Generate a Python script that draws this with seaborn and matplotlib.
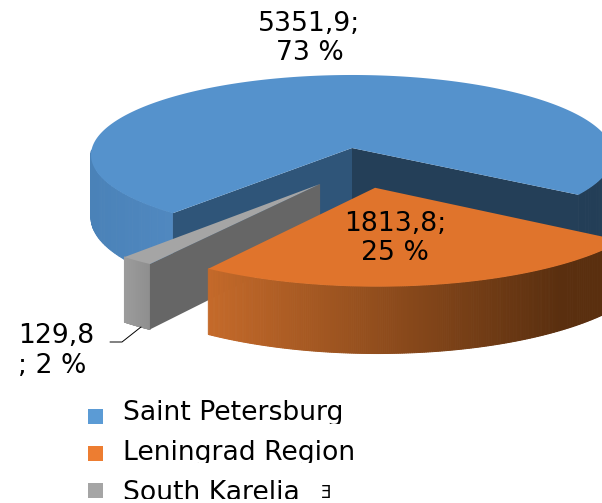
import numpy as np
import seaborn as sns
import matplotlib
matplotlib.use("Agg")
import matplotlib.pyplot as plt
from matplotlib.patches import Rectangle
from matplotlib.transforms import Bbox
from matplotlib.colors import to_rgb

categories = ["Saint Petersburg", "Leningrad Region", "South Karelia"]
values = [5351.9, 1813.8, 129.8]
percents = [73, 25, 2]
top_colors = ["#5592CC", "#E0742C", "#A5A5A5"]
legend_colors = ["#5B9BD5", "#ED7D31", "#A5A5A5"]

sns.set_theme(style="white")
plt.rcParams["font.family"] = ["DejaVu Sans"]
palette = sns.color_palette(top_colors)

W, H = 602, 503
fig, ax = plt.subplots(figsize=(W / 100, H / 100), dpi=100)
fig.subplots_adjust(0, 0, 1, 1)
ax.set_xlim(0, W)
ax.set_ylim(H, 0)
ax.axis("off")

# projection of the pie disc
X0, Y0, A, B, K, DEPTH = 352, 148, 260, 79.4, 0.0875, 58


def proj(u, v, z=0.0):
    w = 1 - K * v
    return X0 + A * u / w, Y0 + B * v / w + DEPTH * z / w


shares = np.array(values) / sum(values) * 360
start = 130.0
ends = start + np.cumsum(shares)
starts = np.r_[start, ends[:-1]]
offsets = [(0, 0), (0.085, 0.48), (-0.118, 0.436)]
radii = [1.0, 1.035, 1.032]
depths = [1.07, 1.0, 1.0]


def arc(i, n=240):
    t = np.radians(np.linspace(starts[i], ends[i], n))
    ou, ov = offsets[i]
    return ou + radii[i] * np.cos(t), ov + radii[i] * np.sin(t)


def fill(pts, color, z):
    xs, ys = zip(*pts)
    ax.fill(xs, ys, facecolor=color, edgecolor=color, lw=0.7, zorder=z)


def wall_outer(i, color_fn, z):
    u, v = arc(i)
    d = depths[i]
    for k in range(len(u) - 1):
        p = [proj(u[k], v[k]), proj(u[k + 1], v[k + 1]),
             proj(u[k + 1], v[k + 1], d), proj(u[k], v[k], d)]
        if v[k] > offsets[i][1] + 0.04:
            fill(p, color_fn(proj(u[k], v[k])[0]), z)


def wall_radial(i, uu, vv, color, z):
    ou, ov = offsets[i]
    d = depths[i]
    xs, ys = zip(proj(ou, ov), proj(uu, vv), proj(uu, vv, d), proj(ou, ov, d))
    ax.fill(xs, ys, color=color, lw=0, zorder=z)


def top(i, color, z):
    u, v = arc(i)
    ou, ov = offsets[i]
    xs, ys = proj(np.r_[ou, u], np.r_[ov, v])
    ax.fill(xs, ys, color=color, lw=0, zorder=z)


def grad(x0, c0, x1, c1):
    a, b = np.array(to_rgb(c0)), np.array(to_rgb(c1))
    return lambda x: tuple(a + (b - a) * np.clip((x - x0) / (x1 - x0), 0, 1))


# Saint Petersburg
left_blue = grad(91, "#4A82B8", 175, "#5088C0")
dark_blue = to_rgb("#233E57")
wall_outer(0, lambda x: left_blue(x) if x < 352 else dark_blue, 1)
u0, v0 = arc(0)
wall_radial(0, u0[0], v0[0], "#2F5579", 2)
wall_radial(0, u0[-1], v0[-1], "#243F58", 3)
top(0, palette[0], 4)
# South Karelia
u2, v2 = arc(2)
wall_outer(2, grad(124, "#9C9C9C", 150, "#8E8E8E"), 5)
wall_radial(2, u2[0], v2[0], "#666666", 6)
top(2, palette[2], 7)
# Leningrad Region
wall_outer(1, grad(208, "#C56A2A", 560, "#5A2F0F"), 8)
top(1, palette[1], 9)

fs = 19.2
txt = dict(fontsize=fs, color="black", zorder=20, linespacing=1.15)
ax.text(309.5, 38, f"{str(values[0]).replace('.', ',')};\n{percents[0]} %", ha="center", va="center", **txt)
ax.text(395, 239, f"{str(values[1]).replace('.', ',')};\n{percents[1]} %", ha="center", va="center", **txt)
ax.text(18, 351, f"{str(values[2]).replace('.', ',')}\n; {percents[2]} %", ha="left", va="center", **txt)
ax.plot([110, 122, 141], [342, 342, 327], color="black", lw=0.7, zorder=20)


def clipped_text(x, y, s, size, ha, bottom):
    t = ax.text(x, y, s, fontsize=size, color="black", ha=ha, va="baseline", zorder=20)
    t.set_clip_path(None)
    t.set_clip_box(Bbox([[0, H - bottom], [W, H]]))
    t.set_clip_on(True)


# legend rows, each cut off at the bottom as in the source image
square_y = [409, 446, 483]
base_y = [420, 460.5, 499.5]
clip_y = [424, 463, 499]
for name, c, sy, by, cy in zip(categories, legend_colors, square_y, base_y, clip_y):
    ax.add_patch(Rectangle((88, sy), 15, 15, facecolor=c, edgecolor="none", zorder=20))
    clipped_text(123, by, name, fs, "left", cy)
clipped_text(331.5, 498, "Ǝ", 12, "right", 499)

fig.savefig("out.png", dpi=100)
